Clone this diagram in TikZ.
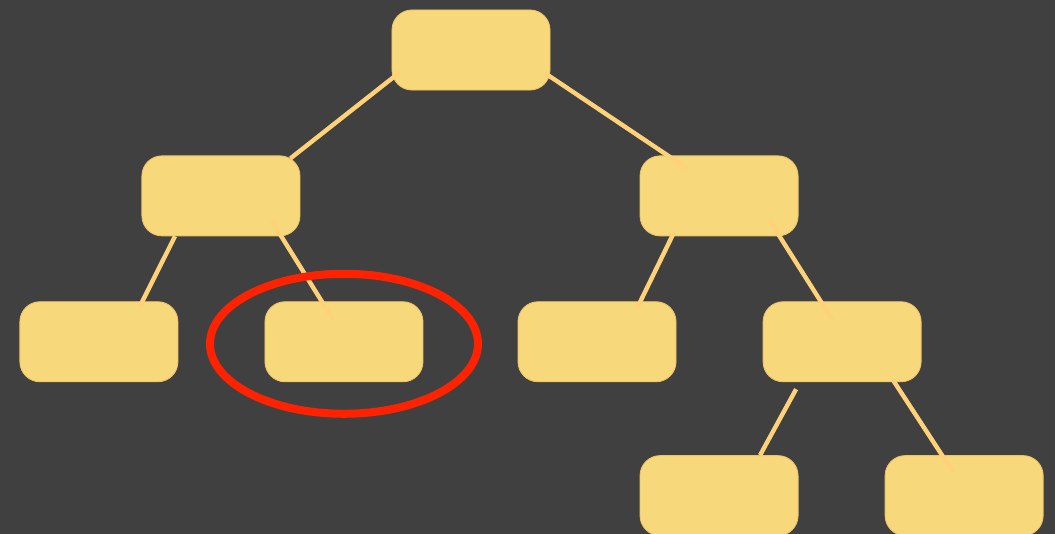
\documentclass[tikz,border=0pt]{standalone}
\usepackage{tikz}
\usetikzlibrary{positioning}
\usepackage{xcolor}
\definecolor{Slate}{HTML}{404040}
\definecolor{Butter}{HTML}{F7D87A}
\definecolor{ButterEdge}{HTML}{EFC466}
\definecolor{Honey}{HTML}{FFD27A}
\definecolor{Signal}{HTML}{FF2200}

\begin{document}
\begin{tikzpicture}[
    x=0.025cm, y=0.025cm,
    box/.style={
        draw=ButterEdge, line width=0.6pt, fill=Butter,
        rounded corners=0.5cm, minimum width=3.95cm, minimum height=2.0cm,
        inner sep=0pt
    },
    link/.style={draw=Honey, line width=0.11cm},
    ring/.style={draw=Signal, line width=0.2cm}
]

% background
\fill[Slate] (0,0) rectangle (1055,534);
\useasboundingbox (0,0) rectangle (1055,534);

% =============================================
% LEVEL 0 / 1
% =============================================
\node[box] (root) at (471,484) {};
\node[box, below=1.625cm of root, xshift=-6.25cm] (left) {};
\node[box, below=1.625cm of root, xshift=6.2cm] (right) {};

% =============================================
% LEVEL 2
% =============================================
\node[box, below=1.625cm of left, xshift=-3.05cm] (leftleft) {};
\node[box, below=1.625cm of left, xshift=3.075cm] (leftright) {};
\node[box, below=1.625cm of right, xshift=-3.05cm] (rightleft) {};
\node[box, below=1.625cm of right, xshift=3.075cm] (rightright) {};

% =============================================
% LEVEL 3
% =============================================
\node[box, below=1.825cm of rightright, xshift=-3.075cm] (deepleft) {};
\node[box, below=1.825cm of rightright, xshift=3.05cm] (deepright) {};

% edges (drawn over the boxes)
\draw[link] ([shift={(8,18)}]root.south west) -- ([shift={(-10,-3)}]left.north east);
\draw[link] ([shift={(-5,17)}]root.south east) -- ([shift={(-32,-13)}]right.north);

\draw[link] ([shift={(-46,0)}]left.south) -- ([shift={(41,-5)}]leftleft.north);
\draw[link] ([shift={(51,15)}]left.south) -- ([shift={(-11,-18)}]leftright.north);

\draw[link] ([shift={(-46,2)}]right.south) -- ([shift={(40,-7)}]rightleft.north);
\draw[link] ([shift={(51,15)}]right.south) -- ([shift={(-10,-18)}]rightright.north);

\draw[link] ([shift={(-46,-7)}]rightright.south) -- ([shift={(41,0)}]deepleft.north);
\draw[link] ([shift={(51,2)}]rightright.south) -- ([shift={(-11,-17)}]deepright.north);

% highlight
\draw[ring] ([shift={(0,-2)}]leftright.center) ellipse [x radius=134, y radius=70];

\end{tikzpicture}
\end{document}
